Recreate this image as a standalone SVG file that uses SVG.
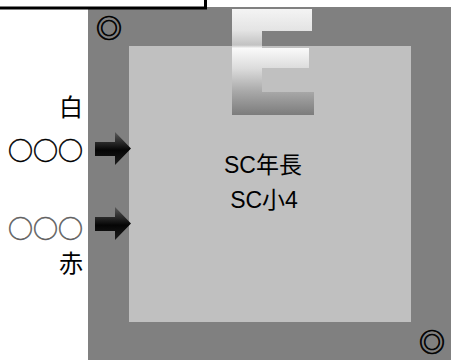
<svg xmlns="http://www.w3.org/2000/svg" width="451" height="360" viewBox="0 0 451 360">
<defs>
<linearGradient id="gE" x1="0" y1="9" x2="0" y2="115" gradientUnits="userSpaceOnUse">
<stop offset="0" stop-color="#f4f4f4"/>
<stop offset="0.2" stop-color="#e4e4e4"/>
<stop offset="0.34" stop-color="#c2c2c2"/>
<stop offset="0.37" stop-color="#fafafa"/>
<stop offset="0.56" stop-color="#dcdcdc"/>
<stop offset="0.78" stop-color="#a8a8a8"/>
<stop offset="1" stop-color="#7c7c7c"/>
</linearGradient>
<linearGradient id="gA" x1="0" y1="0" x2="0" y2="1">
<stop offset="0" stop-color="#5a5a5a"/>
<stop offset="0.55" stop-color="#050505"/>
<stop offset="1" stop-color="#1c1c1c"/>
</linearGradient>
<path id="arrow" d="M95,10 H115 V0 L131,16.5 L115,33 V24 H95 Z" fill="url(#gA)"/>
</defs>
<style>
.t{font-family:"Noto Sans CJK JP","Noto Sans",sans-serif;font-size:24px;fill:#000}
.o{font-family:"Noto Sans CJK JP",sans-serif;font-size:25px;fill:#000;stroke:#000;stroke-width:0.5px}
.c{font-family:"Liberation Sans","Noto Sans CJK JP",sans-serif;font-size:23px;fill:#000}
.dc{font-family:"Noto Sans CJK JP",sans-serif;font-size:26px;fill:#000;stroke:#000;stroke-width:0.7px}
</style>
<g id="board">
<rect x="88" y="7" width="363" height="353" fill="#808080"/>
<rect x="129" y="46" width="282" height="276" fill="#c0c0c0"/>
</g>
<g id="letterE">
<path d="M232,9 H312 V31 H262 V48 H309 V68 H262 V92 H314 V115 H232 Z" fill="url(#gE)"/>
</g>
<g id="topbox">
<rect x="-5" y="-5" width="210.5" height="13" fill="#fff" stroke="#000" stroke-width="3"/>
</g>
<g id="mark1"><text class="dc" x="109" y="38" text-anchor="middle">◎</text></g>
<g id="mark2"><text class="dc" x="432" y="352" text-anchor="middle">◎</text></g>
<g id="label-white"><text class="t" x="83" y="116" text-anchor="end">白</text></g>
<g id="label-o1"><text class="o" x="83" y="160" text-anchor="end">○○○</text></g>
<g id="label-o2"><text class="o" x="83" y="238" text-anchor="end" style="fill:#606060;stroke:#606060">○○○</text></g>
<g id="label-red"><text class="t" x="83" y="272" text-anchor="end">赤</text></g>
<g id="center-text">
<text class="c" x="263" y="173" text-anchor="middle">SC年長</text>
<text class="c" x="264" y="208" text-anchor="middle">SC小4</text>
</g>
<g id="connectors">
<use href="#arrow" y="132"/>
<use href="#arrow" y="207"/>
</g>
</svg>
